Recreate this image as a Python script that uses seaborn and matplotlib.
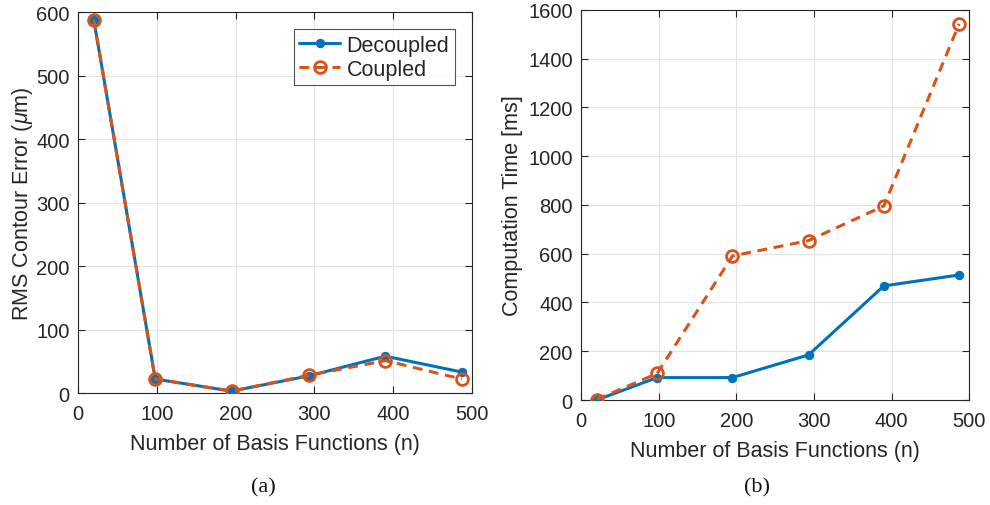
import matplotlib
matplotlib.use("Agg")
import matplotlib.pyplot as plt
import seaborn as sns
import pandas as pd

# Number of basis functions evaluated
n_basis = [20, 98, 195, 293, 390, 487]

# RMS contour error (um)
rms_decoupled = [588, 22, 3, 27, 58, 33]
rms_coupled = [588, 22, 3, 28, 51, 22]

# Computation time (ms)
time_decoupled = [0, 92, 92, 185, 468, 513]
time_coupled = [2, 109, 591, 654, 796, 1543]

series_names = ["Decoupled", "Coupled"]
x_ticks = [0, 100, 200, 300, 400, 500]
rms_ticks = [0, 100, 200, 300, 400, 500, 600]
time_ticks = [0, 200, 400, 600, 800, 1000, 1200, 1400, 1600]

BLUE = "#0072BD"
ORANGE = "#D95319"
INK = "#262626"

sns.set_theme(style="white")
plt.rcParams["font.family"] = ["Liberation Sans", "DejaVu Sans"]
plt.rcParams["mathtext.fontset"] = "custom"
plt.rcParams["mathtext.it"] = "Liberation Sans:italic"
plt.rcParams["mathtext.rm"] = "Liberation Sans"

fig = plt.figure(figsize=(9.9, 5.06), dpi=100)
ax1 = fig.add_axes([0.0788, 0.2213, 0.398, 0.753])
ax2 = fig.add_axes([0.587, 0.2075, 0.392, 0.7708])


def draw(ax, dec, cou):
    df_d = pd.DataFrame({"n": n_basis, "v": dec})
    df_c = pd.DataFrame({"n": n_basis, "v": cou})
    sns.lineplot(data=df_d, x="n", y="v", ax=ax, color=BLUE, lw=2.2,
                 marker="o", markersize=6, markeredgecolor=BLUE,
                 markerfacecolor=BLUE, label=series_names[0], zorder=3)
    sns.lineplot(data=df_c, x="n", y="v", ax=ax, color=ORANGE, lw=2.2,
                 linestyle=(0, (3.2, 2.2)), marker="o", markersize=8.5,
                 markeredgewidth=2, markeredgecolor=ORANGE,
                 markerfacecolor="none", label=series_names[1], zorder=4)


def style(ax, yticks, ylabel, ypad):
    ax.set_xlim(0, 500)
    ax.set_ylim(yticks[0], yticks[-1])
    ax.set_xticks(x_ticks)
    ax.set_yticks(yticks)
    ax.grid(True, color="#e4e4e4", lw=0.8)
    ax.set_axisbelow(True)
    for sp in ax.spines.values():
        sp.set_color(INK)
        sp.set_linewidth(0.8)
        sp.set_visible(True)
    ax.tick_params(direction="in", length=5, width=0.8, top=True, right=True,
                   bottom=True, left=True, labelsize=14.5, colors=INK)
    ax.tick_params(axis="x", pad=8)
    ax.tick_params(axis="y", pad=6)
    ax.set_xlabel("Number of Basis Functions (n)", fontsize=15.5,
                  color=INK, labelpad=7)
    ax.set_ylabel(ylabel, fontsize=15.5, color=INK, labelpad=ypad)


draw(ax1, rms_decoupled, rms_coupled)
style(ax1, rms_ticks, r"RMS Contour Error ($\mu$m)", 1)
leg = ax1.legend(loc="upper right", fontsize=15.5, frameon=True, fancybox=False,
                 edgecolor=INK, handlelength=1.9, handletextpad=0.3,
                 borderpad=0.25, labelspacing=0.15, borderaxespad=0.8)
leg.get_frame().set_linewidth(0.8)

draw(ax2, time_decoupled, time_coupled)
style(ax2, time_ticks, "Computation Time [ms]", 4)
ax2.get_legend().remove()

serif = ["Liberation Serif", "DejaVu Serif"]
fig.text(263 / 990, 1 - 488 / 506, "(a)", ha="center", va="center",
         fontsize=16, family=serif, color="#111111")
fig.text(757 / 990, 1 - 488 / 506, "(b)", ha="center", va="center",
         fontsize=16, family=serif, color="#111111")

fig.savefig("out.png", dpi=100, facecolor="white")
